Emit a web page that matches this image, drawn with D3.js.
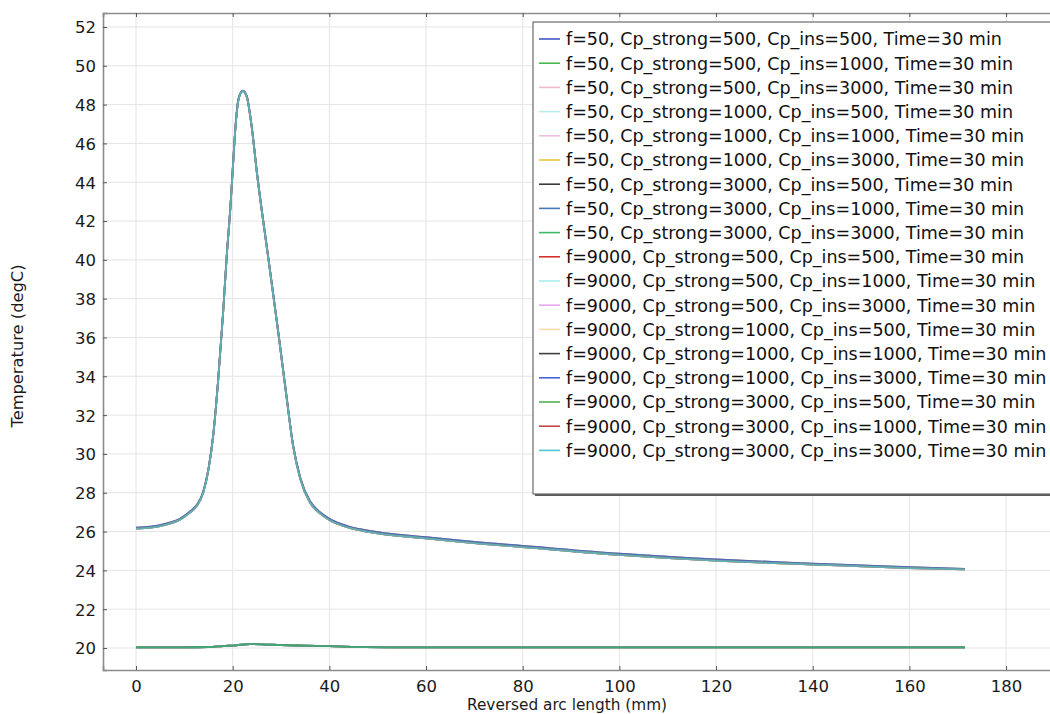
<!DOCTYPE html>
<html>
<head>
<meta charset="utf-8">
<script src="https://cdn.jsdelivr.net/npm/d3@7"></script>
<style>
  html, body { margin: 0; padding: 0; background: #fff; }
  svg { display: block; font-family: "DejaVu Sans", sans-serif; }
</style>
</head>
<body>
<svg id="chart" width="1050" height="714"></svg>
<script>
// Arc-length positions (mm) shared by the heated profiles
const arcPeak = [0, 3, 6, 9, 11, 12.5, 13.9, 15, 16, 17, 18, 18.8, 19.5, 20, 20.6, 21.2, 22.1,
  22.9, 23.9, 25, 27.3, 29.4, 31.1, 32.5, 34, 36, 38, 40, 44, 47.7, 60, 75, 80,
  100, 120, 140, 160, 171.5];
// High-frequency runs: strong heating peak near 22 mm
const tempPeakA = [26.15, 26.2, 26.35, 26.6, 26.95, 27.3, 28.0, 29.2, 31.0, 33.8, 37.2, 40.3,
  42.6, 44.6, 46.9, 48.25, 48.7, 48.4, 46.9, 44.5, 40.2, 36.3, 33.0, 30.4, 28.7, 27.5, 26.95,
  26.6, 26.2, 26.0, 25.65, 25.3, 25.2, 24.8, 24.5, 24.3, 24.12, 24.05];
const tempPeakB = [26.2, 26.25, 26.4, 26.65, 27.0, 27.35, 28.05, 29.25, 31.05, 33.85, 37.25, 40.35,
  42.65, 44.65, 46.95, 48.3, 48.72, 48.45, 46.95, 44.55, 40.25, 36.35, 33.05, 30.45, 28.76,
  27.56, 27.01, 26.66, 26.26, 26.06, 25.71, 25.36, 25.26, 24.86, 24.56, 24.35, 24.16, 24.08];

const arcFlat = [0, 10, 15, 18, 20.7, 23.6, 26, 30, 35, 40, 47.6, 60, 100, 140, 171.5];
// Low-frequency runs: stays near ambient with a faint bump
const tempFlat = [20.03, 20.03, 20.05, 20.1, 20.14, 20.2, 20.19, 20.15, 20.12, 20.1, 20.04, 20.03, 20.03, 20.03, 20.03];

const seriesNames = [
  "f=50, Cp_strong=500, Cp_ins=500, Time=30 min",
  "f=50, Cp_strong=500, Cp_ins=1000, Time=30 min",
  "f=50, Cp_strong=500, Cp_ins=3000, Time=30 min",
  "f=50, Cp_strong=1000, Cp_ins=500, Time=30 min",
  "f=50, Cp_strong=1000, Cp_ins=1000, Time=30 min",
  "f=50, Cp_strong=1000, Cp_ins=3000, Time=30 min",
  "f=50, Cp_strong=3000, Cp_ins=500, Time=30 min",
  "f=50, Cp_strong=3000, Cp_ins=1000, Time=30 min",
  "f=50, Cp_strong=3000, Cp_ins=3000, Time=30 min",
  "f=9000, Cp_strong=500, Cp_ins=500, Time=30 min",
  "f=9000, Cp_strong=500, Cp_ins=1000, Time=30 min",
  "f=9000, Cp_strong=500, Cp_ins=3000, Time=30 min",
  "f=9000, Cp_strong=1000, Cp_ins=500, Time=30 min",
  "f=9000, Cp_strong=1000, Cp_ins=1000, Time=30 min",
  "f=9000, Cp_strong=1000, Cp_ins=3000, Time=30 min",
  "f=9000, Cp_strong=3000, Cp_ins=500, Time=30 min",
  "f=9000, Cp_strong=3000, Cp_ins=1000, Time=30 min",
  "f=9000, Cp_strong=3000, Cp_ins=3000, Time=30 min"
];
const seriesColors = [
  "#3f58c4", "#4cb84c", "#f0b8c8", "#b8ecec", "#ecc0dc", "#e8c840",
  "#3c3c3c", "#4a78b8", "#3fb86a", "#d83030", "#a8ecec", "#e8a8ec",
  "#f8dcb0", "#404040", "#4c64d0", "#58b058", "#c04848", "#48c8d8"
];
// Which profile each series follows
const seriesProfile = [
  "flat", "flat", "flat", "flat", "flat", "flat", "flat", "flat", "flat",
  "peakA", "peakA", "peakA", "peakA", "peakB", "peakB", "peakA", "peakA", "peakA"
];

const xTicks = [0, 20, 40, 60, 80, 100, 120, 140, 160, 180];
const yTicks = [20, 22, 24, 26, 28, 30, 32, 34, 36, 38, 40, 42, 44, 46, 48, 50, 52];

const profiles = {
  flat: arcFlat.map((a, i) => [a, tempFlat[i]]),
  peakA: arcPeak.map((a, i) => [a, tempPeakA[i]]),
  peakB: arcPeak.map((a, i) => [a, tempPeakB[i]])
};

const svg = d3.select("#chart");
const plot = { left: 103, top: 13, right: 1052, bottom: 670 };

const x = d3.scaleLinear().domain([-6.83, 189.5]).range([plot.left, plot.right]);
const y = d3.scaleLinear().domain([18.866, 52.72]).range([plot.bottom, plot.top]);

const g = svg.append("g");

// grid
g.append("g").selectAll("line").data(xTicks).join("line")
  .attr("x1", d => x(d)).attr("x2", d => x(d))
  .attr("y1", plot.top).attr("y2", plot.bottom)
  .attr("stroke", "#e4e4e4").attr("stroke-width", 1);
g.append("g").selectAll("line").data(yTicks).join("line")
  .attr("x1", plot.left).attr("x2", plot.right)
  .attr("y1", d => y(d)).attr("y2", d => y(d))
  .attr("stroke", "#e4e4e4").attr("stroke-width", 1);

// curves
const line = d3.line().x(d => x(d[0])).y(d => y(d[1])).curve(d3.curveMonotoneX);
svg.append("clipPath").attr("id", "clip").append("rect")
  .attr("x", plot.left).attr("y", plot.top)
  .attr("width", plot.right - plot.left).attr("height", plot.bottom - plot.top);
g.append("g").attr("clip-path", "url(#clip)")
  .selectAll("path").data(seriesNames).join("path")
  .attr("d", (d, i) => line(profiles[seriesProfile[i]]))
  .attr("fill", "none")
  .attr("stroke", (d, i) => seriesColors[i])
  .attr("stroke-opacity", 0.75)
  .attr("stroke-width", 1.8);

// axes with inward ticks
const axisColor = "#8c8c8c";
const xAxis = d3.axisBottom(x).tickValues(xTicks).tickSize(-4).tickPadding(10).tickFormat(d3.format("d"));
const yAxis = d3.axisLeft(y).tickValues(yTicks).tickSize(-4).tickPadding(7).tickFormat(d3.format("d"));
const xTop = d3.axisTop(x).tickValues(xTicks).tickSize(-4).tickFormat("");

const gx = g.append("g").attr("transform", `translate(0,${plot.bottom})`).call(xAxis);
const gy = g.append("g").attr("transform", `translate(${plot.left},0)`).call(yAxis);
const gt = g.append("g").attr("transform", `translate(0,${plot.top})`).call(xTop);
[gx, gy, gt].forEach(a => {
  a.select(".domain").attr("stroke", axisColor).attr("stroke-width", 1.6);
  a.selectAll(".tick line").attr("stroke", "#555").attr("stroke-width", 1);
  a.selectAll("text").attr("fill", "#1a1a1a").attr("font-size", 16.5)
    .attr("font-family", "DejaVu Sans, sans-serif");
});
gy.selectAll("text").attr("dy", "0.36em");

// axis titles
svg.append("text").attr("x", 567).attr("y", 710).attr("text-anchor", "middle")
  .attr("font-size", 15.3).attr("fill", "#1a1a1a").text("Reversed arc length (mm)");
svg.append("text").attr("transform", "translate(23,346) rotate(-90)")
  .attr("text-anchor", "middle").attr("font-size", 16.3).attr("fill", "#1a1a1a")
  .text("Temperature (degC)");

// legend
const lg = { x: 533, y: 22, w: 520, h: 472, row: 24.2, first: 39 };
svg.append("rect").attr("x", lg.x + 2).attr("y", lg.y + 2).attr("width", lg.w).attr("height", lg.h)
  .attr("fill", "#5a5a5a");
svg.append("rect").attr("x", lg.x).attr("y", lg.y).attr("width", lg.w).attr("height", lg.h)
  .attr("fill", "#fff").attr("stroke", "#6a6a6a").attr("stroke-width", 1.2);
const rows = svg.append("g").selectAll("g").data(seriesNames).join("g")
  .attr("transform", (d, i) => `translate(0,${lg.first + i * lg.row})`);
rows.append("line").attr("x1", 539).attr("x2", 560).attr("y1", 0).attr("y2", 0)
  .attr("stroke", (d, i) => seriesColors[i]).attr("stroke-width", 1.6);
rows.append("text").attr("x", 566).attr("y", 0).attr("dy", "0.36em")
  .attr("font-size", 17.5).attr("fill", "#111").text(d => d);
</script>
</body>
</html>
